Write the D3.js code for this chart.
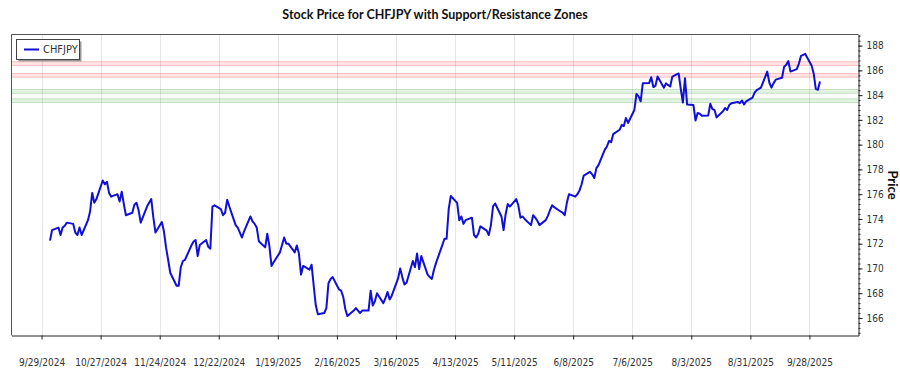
<!DOCTYPE html>
<html>
<head>
<meta charset="utf-8">
<script src="https://cdn.jsdelivr.net/npm/d3@7"></script>
<style>
  html, body { margin: 0; padding: 0; background: #fff; }
  svg { display: block; font-family: "Liberation Sans Narrow", "DejaVu Sans Condensed", sans-serif; }
</style>
</head>
<body>
<svg id="chart" width="900" height="375"></svg>
<script>
// ---- data ----
const symbol = "CHFJPY";
const titleText = "Stock Price for CHFJPY with Support/Resistance Zones";
const startDate = "2024-10-03";
const endDate = "2025-10-03";
const prices = [
  172.25, 173.1,
  173.3, 172.7, 173.3, 173.45, 173.7,
  173.6, 172.9, 172.7, 173.3, 172.7,
  173.9, 174.6, 176.1, 175.3, 175.6,
  177.1, 176.8, 177.0, 176.1, 175.8,
  176.0, 175.4, 176.2, 175.2, 174.3,
  174.5, 175.15, 175.3, 174.7, 173.7,
  175.0, 175.3, 175.6, 174.1, 172.9,
  173.75, 173.0, 171.7, 170.7, 169.65,
  168.6, 168.6, 170.1, 170.6, 170.7,
  171.85, 172.15, 172.3, 171.0, 171.9,
  172.3, 171.75, 171.6, 175.0, 175.1,
  174.8, 174.3, 174.5, 175.55, 175.0,
  173.5, 173.3, 172.9, 172.5, 173.0,
  174.2, 173.8, 173.6, 173.3, 172.2,
  171.7, 172.8, 171.8, 170.2, 170.5,
  171.3, 171.9, 172.5, 172.0, 172.0,
  171.3, 171.85, 171.2, 169.5, 170.2,
  169.9, 170.3, 168.6, 167.0, 166.3,
  166.4, 166.8, 168.8, 169.15, 169.3,
  168.3, 168.2, 167.7, 166.7, 166.15,
  166.6, 166.8, 166.6, 166.4, 166.6,
  166.6, 168.2, 167.0, 167.35, 168.0,
  167.2, 167.6, 168.1, 167.5, 167.8,
  169.2, 170.0, 169.3, 168.7, 168.85,
  170.6, 170.1, 171.2, 169.95, 171.0,
  169.5, 169.3, 169.15, 169.9, 170.45,
  171.9, 172.4, 172.4, 174.8, 175.85,
  175.3, 173.9, 174.2, 173.6, 173.9,
  174.1, 172.7, 172.5, 172.8, 173.4,
  173.05, 172.7, 173.5, 175.0, 175.25,
  174.2, 173.1, 174.4, 175.2, 175.0,
  175.6, 175.1, 174.1, 174.2, 174.0,
  173.5, 174.3, 174.1, 173.85, 173.5,
  173.9, 174.25, 174.7, 175.1, 174.95,
  174.6, 174.5, 174.3, 175.3, 176.0,
  175.8, 176.0, 176.3, 176.8, 177.5,
  177.8, 177.6, 177.3, 178.1, 178.35,
  179.6, 179.85, 180.3, 180.2, 180.85,
  181.2, 181.6, 181.5, 182.15, 181.75,
  182.8, 184.1, 183.9, 183.5, 184.95,
  184.97, 185.45, 184.65, 184.75, 185.5,
  184.6, 184.95, 184.8, 184.7, 185.5,
  185.75, 184.5, 183.4, 185.37, 183.25,
  183.2, 181.95, 182.55, 182.5, 182.33,
  182.35, 183.3, 182.87, 182.8, 182.2,
  182.7, 182.95, 182.8, 183.2, 183.35,
  183.45, 183.35, 183.56, 183.25, 183.5,
  183.8, 184.2, 184.4, 184.5, 184.6,
  185.9, 185.0, 184.6, 184.97, 185.25,
  185.4, 186.3, 186.45, 186.75, 185.9,
  186.1, 186.55, 187.17, 187.25, 187.33,
  186.4, 185.75, 184.5, 184.43, 185.1
];
const resistanceZones = [[186.4, 186.7], [185.45, 185.75]];
const supportZones = [[183.4, 183.7], [184.15, 184.45]];
const tickStart = "2024-09-29";
const tickStepDays = 28;
const yTickValues = [166, 168, 170, 172, 174, 176, 178, 180, 182, 184, 186, 188];

// ---- build dates (trading weekdays) ----
const parse = d3.utcParse("%Y-%m-%d");
const dates = d3.utcDay.range(parse(startDate), d3.utcDay.offset(parse(endDate), 1))
  .filter(d => d.getUTCDay() !== 0 && d.getUTCDay() !== 6);
const data = dates.map((d, i) => ({ date: d, price: prices[i] })).filter(d => d.price != null);

// ---- layout ----
const svg = d3.select("#chart");
const L = 11.5, R = 858.5, T = 34.5, B = 335.5;
const tickFont = "'Liberation Sans Narrow', 'DejaVu Sans Condensed', sans-serif";
const titleFont = "Lato, 'Noto Sans', sans-serif";

const xExt = d3.extent(data, d => d.date);
const xSpan = xExt[1] - xExt[0];
const x = d3.scaleUtc()
  .domain([new Date(+xExt[0] - xSpan * 0.05), new Date(+xExt[1] + xSpan * 0.05)])
  .range([L, R]);

const yExt = d3.extent(data, d => d.price);
const yPad = (yExt[1] - yExt[0]) * 0.074;
const y = d3.scaleLinear().domain([yExt[0] - yPad, yExt[1] + yPad]).range([B, T]);

const xTicks = d3.utcDay.every(1).range(parse(tickStart), x.domain()[1])
  .filter((d, i) => i % tickStepDays === 0);
const fmt = d => `${d.getUTCMonth() + 1}/${d.getUTCDate()}/${d.getUTCFullYear()}`;

// vertical grid
svg.append("g").selectAll("line").data(xTicks).join("line")
  .attr("x1", d => Math.round(x(d)) + 0.5).attr("x2", d => Math.round(x(d)) + 0.5)
  .attr("y1", T).attr("y2", B)
  .attr("stroke", "#e6e6e6").attr("stroke-width", 1);

// zones
const zoneG = svg.append("g");
function drawZones(zones, fill, stroke) {
  zones.forEach(z => {
    zoneG.append("rect")
      .attr("x", L).attr("width", R - L)
      .attr("y", y(z[1])).attr("height", y(z[0]) - y(z[1]))
      .attr("fill", fill);
    [z[0], z[1]].forEach(v => {
      zoneG.append("line")
        .attr("x1", L).attr("x2", R)
        .attr("y1", y(v)).attr("y2", y(v))
        .attr("stroke", stroke).attr("stroke-width", 1);
    });
  });
}
drawZones(resistanceZones, "rgba(255,0,0,0.10)", "rgba(255,0,0,0.22)");
drawZones(supportZones, "rgba(0,140,0,0.10)", "rgba(0,140,0,0.22)");

// price line
const line = d3.line().x(d => x(d.date)).y(d => y(d.price));
svg.append("path").datum(data)
  .attr("d", line)
  .attr("fill", "none")
  .attr("stroke", "#0f0fd8")
  .attr("stroke-width", 2)
  .attr("stroke-linejoin", "round");

// frame (left/top)
svg.append("path")
  .attr("d", `M${L},${B}V${T}H${R}`)
  .attr("fill", "none").attr("stroke", "#555").attr("stroke-width", 1);

// bottom axis
const xAxis = svg.append("g").attr("transform", `translate(0,${B})`)
  .call(d3.axisBottom(x).tickValues(xTicks).tickFormat(fmt).tickSize(4).tickPadding(19).tickSizeOuter(0));
xAxis.select(".domain").attr("stroke", "#222");
xAxis.selectAll(".tick line").attr("stroke", "#222");
xAxis.selectAll(".tick text").attr("fill", "#333").style("font-size", "10px")
  .style("font-family", tickFont);

// right axis with minor ticks
const minorVals = d3.range(Math.ceil(y.domain()[0] / 0.4) * 0.4, y.domain()[1], 0.4);
const minor = svg.append("g").attr("transform", `translate(${R},0)`)
  .call(d3.axisRight(y).tickValues(minorVals).tickFormat("").tickSize(2).tickSizeOuter(0));
minor.select(".domain").remove();
minor.selectAll(".tick line").attr("stroke", "#222");
const yAxis = svg.append("g").attr("transform", `translate(${R},0)`)
  .call(d3.axisRight(y).tickValues(yTickValues).tickFormat(d3.format("d")).tickSize(4).tickPadding(4).tickSizeOuter(0));
yAxis.select(".domain").attr("stroke", "#222");
yAxis.selectAll(".tick line").attr("stroke", "#222");
yAxis.selectAll(".tick text").attr("fill", "#333").style("font-size", "10px")
  .style("font-family", tickFont);

// axis label
svg.append("text")
  .attr("transform", `translate(891,${(T + B) / 2}) rotate(90)`)
  .attr("text-anchor", "middle")
  .attr("dominant-baseline", "middle")
  .style("font-size", "13px").style("font-weight", "bold")
  .style("font-family", titleFont)
  .attr("fill", "#111")
  .text("Price");

// title
svg.append("text")
  .attr("x", 435).attr("y", 19)
  .attr("text-anchor", "middle")
  .style("font-size", "12.5px").style("font-weight", "bold")
  .style("font-family", titleFont)
  .attr("fill", "#111")
  .text(titleText);

// legend
const lg = svg.append("g");
lg.append("rect").attr("x", 18.5).attr("y", 41.5).attr("width", 63).attr("height", 20)
  .attr("fill", "#999");
lg.append("rect").attr("x", 16.5).attr("y", 39.5).attr("width", 63).attr("height", 20)
  .attr("fill", "#fff").attr("stroke", "#444").attr("stroke-width", 1);
lg.append("line").attr("x1", 24).attr("x2", 39).attr("y1", 49.5).attr("y2", 49.5)
  .attr("stroke", "#0f0fd8").attr("stroke-width", 2);
lg.append("text").attr("x", 43).attr("y", 49.5)
  .attr("dominant-baseline", "middle")
  .style("font-size", "11px").style("font-family", tickFont).attr("fill", "#333")
  .text(symbol);
</script>
</body>
</html>
